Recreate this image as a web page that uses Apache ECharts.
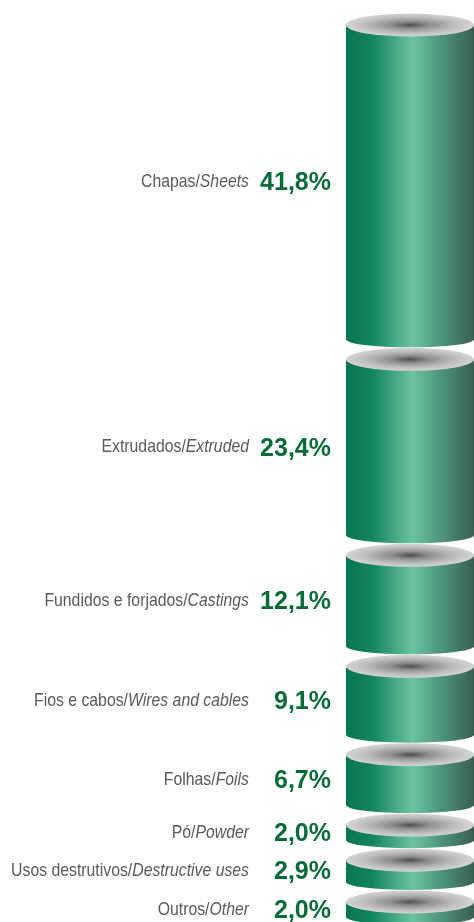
<!DOCTYPE html>
<html>
<head>
<meta charset="utf-8">
<script src="https://cdn.jsdelivr.net/npm/echarts@6/dist/echarts.min.js"></script>
<style>
html,body{margin:0;padding:0;background:#fff;}
#main{width:474px;height:922px;}
</style>
</head>
<body>
<div id="main"></div>
<script>
// categorias (pt / en) e valores em %
var namesPt = ['Chapas/', 'Extrudados/', 'Fundidos e forjados/', 'Fios e cabos/', 'Folhas/', 'Pó/', 'Usos destrutivos/', 'Outros/'];
var namesEn = ['Sheets', 'Extruded', 'Castings', 'Wires and cables', 'Foils', 'Powder', 'Destructive uses', 'Other'];
var values = [41.8, 23.4, 12.1, 9.1, 6.7, 2.0, 2.9, 2.0];

var GAP = 20;        // espaco entre discos (px)
var RY_TOP = 11.5;   // elipse do topo
var RY_BOT = 8;      // curva de baixo

// inicio / fim acumulados
var segData = [];
var acc = 0;
for (var i = 0; i < values.length; i++) {
	segData.push([acc, acc + values[i]]);
	acc += values[i];
}

var bodyFill = {
	type: 'linear', x: 0, y: 0, x2: 1, y2: 0,
	colorStops: [
		{offset: 0, color: '#077650'},
		{offset: 0.2, color: '#12845e'},
		{offset: 0.52, color: '#6bc39f'},
		{offset: 0.75, color: '#4c937a'},
		{offset: 1, color: '#395e54'}
	]
};
var capFill = {
	type: 'radial', x: 0.5, y: 0.5, r: 0.5,
	colorStops: [
		{offset: 0, color: '#4e4e4e'},
		{offset: 0.3, color: '#8e8e8e'},
		{offset: 0.7, color: '#bdbdbd'},
		{offset: 1, color: '#d4d4d4'}
	]
};

var FONT = '"Liberation Sans", Arial, sans-serif';

function pctText(v) {
	return v.toFixed(1).replace('.', ',') + '%';
}

function renderItem(params, api) {
	var idx = params.dataIndex;
	var pL = api.coord([0, api.value(0)]);
	var pR = api.coord([1, api.value(1)]);
	var x0 = pL[0], x1 = pR[0];
	var yTop = pL[1] + idx * GAP;
	var yBot = pR[1] + idx * GAP;
	var cx = (x0 + x1) / 2, rx = (x1 - x0) / 2;
	var mid = (yTop + yBot) / 2;
	return {
		type: 'group',
		children: [
			{type: 'rect', shape: {x: x0, y: yTop, width: x1 - x0, height: yBot - yTop}, style: {fill: bodyFill}},
			{type: 'circle', shape: {cx: cx, cy: yBot, r: rx}, originX: cx, originY: yBot, scaleY: RY_BOT / rx, style: {fill: bodyFill}},
			{type: 'circle', shape: {cx: cx, cy: yTop, r: rx}, originX: cx, originY: yTop, scaleY: RY_TOP / rx, style: {fill: capFill}},
			// rotulo (esticado na vertical p/ parecer condensado)
			{type: 'text', x: 249, y: mid, scaleY: 1.16, style: {
				text: '{n|' + namesPt[idx] + '}{i|' + namesEn[idx] + '}',
				align: 'right', verticalAlign: 'middle',
				rich: {
					n: {fontFamily: FONT, fontSize: 15.8, fill: '#5a5a5a'},
					i: {fontFamily: FONT, fontSize: 15.8, fontStyle: 'italic', fill: '#5a5a5a'}
				}
			}},
			{type: 'text', x: 331, y: mid + 1, scaleY: 1.06, style: {
				text: pctText(values[idx]),
				align: 'right', verticalAlign: 'middle',
				fontFamily: FONT, fontSize: 25, fontWeight: 'bold', fill: '#076b37'
			}}
		]
	};
}

var chart = echarts.init(document.getElementById('main'));
chart.setOption({
	animation: false,
	grid: {left: 346, right: 0, top: 25, bottom: 145},
	xAxis: {type: 'value', min: 0, max: 1, show: false},
	yAxis: {type: 'value', min: 0, max: 100, inverse: true, show: false},
	series: [{
		type: 'custom',
		clip: false,
		renderItem: renderItem,
		encode: {y: [0, 1]},
		data: segData
	}]
});
</script>
</body>
</html>
